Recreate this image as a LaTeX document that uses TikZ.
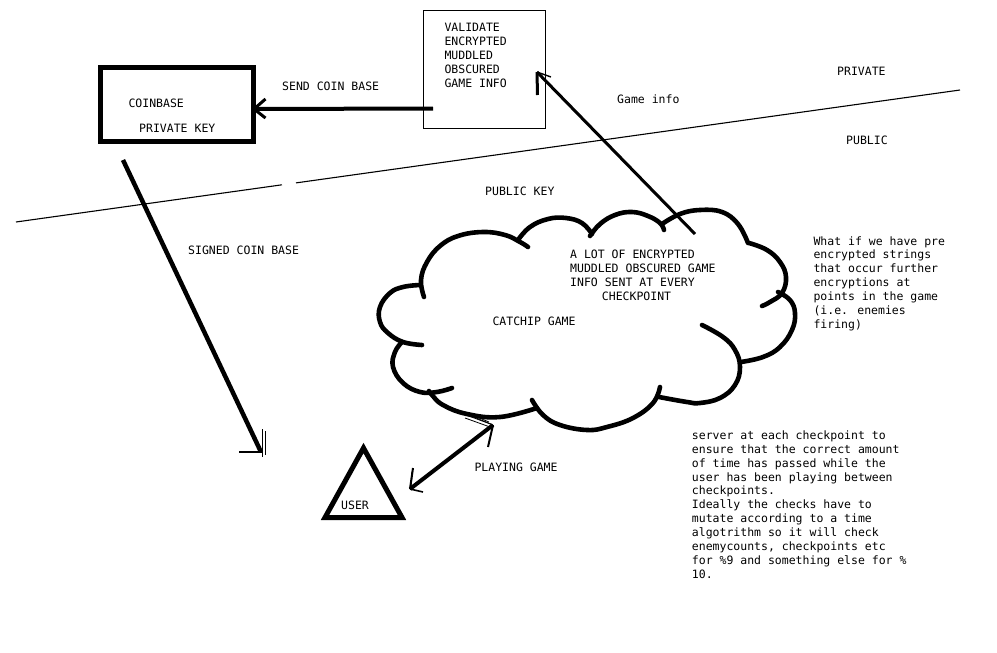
\documentclass[tikz,border=0pt]{standalone}
\usepackage{fontspec}
\newfontfamily\sketchfont{DejaVu Sans Mono}
\begin{document}
\begin{tikzpicture}[x=1pt,y=-1pt,
  lbl/.style={font=\sketchfont\fontsize{11.5}{14}\selectfont, inner sep=0pt, anchor=base west, align=left},
  note/.style={font=\sketchfont\fontsize{11.5}{13.9}\selectfont, inner sep=0pt, anchor=base west, align=left},
  cloudline/.style={line width=4.6pt, line cap=round, line join=round},
  shaft/.style={line width=#1},
  tipline/.style={line width=#1}
]
\useasboundingbox (0,0) rectangle (997,653);
% (multi-line labels are placed by the baseline of their last line)

% boundary between the private and the public side
\draw[line width=1.1pt] (16,222) -- (282,184.8);
\draw[line width=1.1pt] (296,182.9) -- (960,90);
\node[lbl] (lprivate) at (837,75) {PRIVATE};
\node[lbl] (lpublic) at (846,144) {PUBLIC};
\node[lbl] (lpubkey) at (485,195.7) {PUBLIC KEY};

% validation box
\node[draw, line width=1.3pt, minimum width=122pt, minimum height=118pt,
      anchor=north west, inner sep=0pt] (valbox) at (423,10) {};
\node[lbl] (valtext) at (444.3,87.7) {VALIDATE\\ENCRYPTED\\MUDDLED\\OBSCURED\\GAME INFO};

% coinbase box
\node[draw, line width=5pt, minimum width=152.3pt, minimum height=74pt,
      anchor=north west, inner sep=0pt] (coinbox) at (98.2,65.2) {};
\node[lbl] (coinname) at (128.3,107.3) {COINBASE};
\node[lbl] (coinkey) at (139,132.7) {PRIVATE KEY};

% send coin base
\coordinate (sendTail) at (433,108.5);
\coordinate (sendTip) at (254,109);
\draw[shaft=4pt] (sendTail) -- (sendTip);
\draw[tipline=3pt] (265.5,99) -- (sendTip) -- (265.5,118);
\node[lbl] (lsend) at (282,90) {SEND COIN BASE};

% signed coin base
\coordinate (signTail) at (123,160);
\coordinate (signTip) at (261,452);
\draw[shaft=4.5pt] (signTail) -- (signTip);
\draw[tipline=1.4pt] (239,452) -- (263,452);
\draw[tipline=1.4pt] (262.5,429) -- (262.5,457);
\draw[tipline=1.2pt] (265.5,431) -- (265.5,455);
\node[lbl] (lsign) at (188,254) {SIGNED COIN BASE};

% game info sent up to the validation box
\coordinate (infoTail) at (695,234);
\coordinate (infoTip) at (537,72);
\draw[shaft=3pt] (infoTail) -- (infoTip);
\draw[tipline=3pt] (infoTip) -- (537.5,95);
\draw[tipline=1.4pt] (infoTip) -- (551,77);
\node[lbl] (linfo) at (617,103) {Game info};

% the game cloud
\draw[cloudline] plot[smooth, tension=0.7] coordinates {(424,297) (421,280) (427,262) (440,246) (458,236) (483,232) (505,235) (520,242) (528,247)};
\draw[cloudline] plot[smooth, tension=0.7] coordinates {(518,240) (530,227) (548,219) (566,218) (582,223) (592,234)};
\draw[cloudline] plot[smooth, tension=0.7] coordinates {(590,236) (600,224) (615,215) (632,212) (648,216) (660,223) (664,230)};
\draw[cloudline] plot[smooth, tension=0.7] coordinates {(662,224) (680,214) (700,210) (722,212) (738,224) (748,243)};
\draw[cloudline] plot[smooth, tension=0.7] coordinates {(749,243) (767,250) (780,262) (786,277) (782,293) (770,302) (762,306)};
\draw[cloudline] plot[smooth, tension=0.7] coordinates {(778,292) (790,300) (795,313) (792,330) (780,347) (763,357) (741,362)};
\draw[cloudline] plot[smooth, tension=0.7] coordinates {(702,325) (723,337) (735,350) (740,367) (735,385) (720,398) (700,403) (687,402) (659,397)};
\draw[cloudline] plot[smooth, tension=0.7] coordinates {(660,387) (653,403) (633,418) (607,427) (587,430) (560,425) (543,415) (532,400)};
\draw[cloudline] plot[smooth, tension=0.7] coordinates {(537,408) (500,417) (467,414) (443,405) (432,395) (429,391)};
\draw[cloudline] plot[smooth, tension=0.7] coordinates {(452,388) (437,392) (420,392) (403,383) (393,367) (395,352) (402,342)};
\draw[cloudline] plot[smooth, tension=0.7] coordinates {(420,285) (403,287) (390,293) (380,307) (380,322) (388,333) (403,342) (422,345)};
\node[lbl] (cloudtext) at (570,286.3) {A LOT OF ENCRYPTED\\MUDDLED OBSCURED GAME\\INFO SENT AT EVERY};
\node[lbl] (cloudcheck) at (601.7,300.7) {CHECKPOINT};
\node[lbl] (lgame) at (492.3,325) {CATCHIP GAME};

% the user
\draw[line width=5pt, line join=miter] (363.5,448) -- (402,517.5) -- (325,517.5) -- cycle;
\node[lbl] (luser) at (341,509) {USER};

% playing game, both ways
\coordinate (playLow) at (410,489);
\coordinate (playHigh) at (493,425);
\draw[shaft=4pt] (playLow) -- (playHigh);
\draw[tipline=2pt] (playLow) -- (413,468);
\draw[tipline=1.2pt] (411,486) -- (412,472);
\draw[tipline=1.6pt] (playLow) -- (423,492);
\draw[tipline=2pt] (playHigh) -- (488,447);
\draw[tipline=0.8pt] (playHigh) -- (458,412);
\draw[tipline=0.8pt] (491,424) -- (454,409);
\draw[tipline=0.8pt] (490,427) -- (465,418);
\draw[tipline=0.8pt] (489,422) -- (470,414);
\node[lbl] (lplay) at (474.3,471) {PLAYING GAME};

% notes
\node[note] (note1) at (813.3,328.4) {What if we have pre\\encrypted strings\\that occur further\\encryptions at\\points in the game\\(i.e. enemies\\firing)};
\node[note] (note2) at (691.7,578.3) {server at each checkpoint to\\ensure that the correct amount\\of time has passed while the\\user has been playing between\\checkpoints.\\Ideally the checks have to\\mutate according to a time\\algotrithm so it will check\\enemycounts, checkpoints etc\\for \%9 and something else for \%\\10.};
\end{tikzpicture}
\end{document}
